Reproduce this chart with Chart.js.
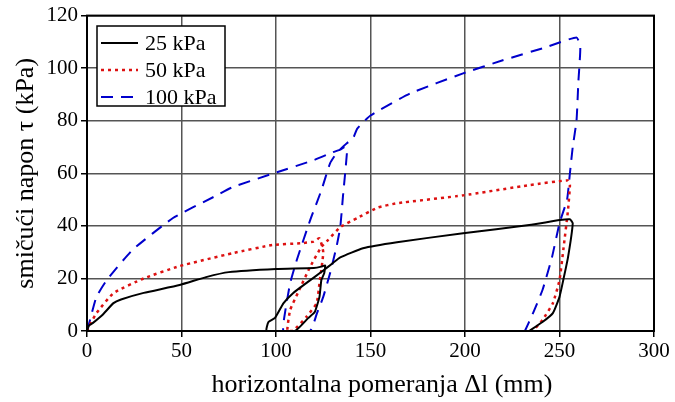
<!DOCTYPE html>
<html>
<head>
<meta charset="utf-8">
<script src="https://cdn.jsdelivr.net/npm/chart.js@4"></script>
<style>
  body { margin: 0; background: #fff; }
  #wrap { width: 675px; height: 402px; }
</style>
</head>
<body>
<div id="wrap"><canvas id="myChart" width="675" height="402"></canvas></div>
<script>
// values
const x25 = [0, 1, 3, 8, 14, 18, 30, 49, 63, 75, 100, 120, 124, 126, 125.5, 124, 123, 120.5, 117, 110, 95, 96, 99.5, 104, 109, 116, 125, 130, 134, 146, 164, 199, 234, 250, 255.5, 257, 254.5, 252, 250, 246.5, 241, 234];
const y25 = [0, 2, 3, 6, 10.6, 12, 14.5, 17.5, 20.5, 22.4, 23.6, 24, 24.5, 25, 22, 19.4, 13, 7.2, 4.9, 0, 0, 3.4, 5, 10.6, 14.4, 18.2, 23, 25.8, 28, 31.5, 33.8, 37.2, 40.3, 42.2, 42.5, 41, 28, 19.4, 13, 6.8, 3.4, 0];

const x50 = [0, 2, 5, 14, 30, 49, 77, 98, 113, 120, 123, 125, 123, 121.5, 116, 109, 106, 107.5, 111.5, 118, 124, 127.5, 134, 143, 154, 164, 199, 234, 254.5, 255.5, 254.5, 252, 250, 246.5, 241, 236];
const y50 = [0, 3, 6.8, 14.4, 20, 24.7, 29.6, 32.7, 33.4, 34, 35.3, 30, 18.2, 10.6, 5.3, 0, 0, 8, 14.4, 24.3, 32, 34.6, 39.5, 43, 47, 48.6, 51.6, 55.5, 57.3, 55.5, 46, 30.8, 19.4, 10.6, 4.2, 0];

const x100 = [0, 1.6, 5, 10.5, 24, 45.5, 67, 77, 100.5, 120, 130, 134, 136.5, 137.6, 135.4, 134, 132, 128.6, 125, 121.7, 118, 104, 105, 107.5, 111, 118, 124, 128.6, 132, 136, 141, 143, 150, 171, 199, 220, 243, 259, 261, 260, 259, 257, 255.5, 254, 250, 246, 241, 236, 231.7];
const y100 = [0, 4.2, 13, 19.4, 30.8, 43, 51, 54.7, 60.4, 65, 68, 69, 70, 68.7, 51, 39.5, 32, 22, 13, 6.8, 0, 0, 8, 18.2, 27, 42, 53.5, 63.8, 67.6, 70.5, 73.7, 77, 82, 90.4, 98, 103, 108, 111.7, 108, 95, 80, 70, 60, 50, 41, 28, 15.6, 6.8, 0];

const seriesNames = ["25 kPa", "50 kPa", "100 kPa"];
const xTicks = [0, 50, 100, 150, 200, 250, 300];
const yTicks = [0, 20, 40, 60, 80, 100, 120];
const xTitle = "horizontalna pomeranja Δl (mm)";
const yTitle = "smičući napon τ (kPa)";

const toPoints = (xs, ys) => xs.map((x, i) => ({ x, y: ys[i] }));

const serif = "'Liberation Serif', 'DejaVu Serif', serif";

const styles = [
  { color: "#000000", width: 2, dash: [] },
  { color: "#dd1111", width: 2.5, dash: [3, 4] },
  { color: "#0000cc", width: 2, dash: [12, 8] },
];

// frame around plot, x title (sits a bit right of centre) and the legend box
const framePlugin = {
  id: "frame",
  afterDraw(chart) {
    const { ctx, chartArea: a } = chart;
    ctx.save();
    ctx.strokeStyle = "#000";
    ctx.lineWidth = 2;
    ctx.strokeRect(a.left, a.top, a.right - a.left, a.bottom - a.top);

    ctx.fillStyle = "#000";
    ctx.font = "26px " + serif;
    ctx.textAlign = "center";
    ctx.textBaseline = "alphabetic";
    ctx.fillText(xTitle, 382, 392);

    const bx = 97, by = 26, bw = 128, bh = 80;
    ctx.fillStyle = "#fff";
    ctx.fillRect(bx, by, bw, bh);
    ctx.lineWidth = 1.5;
    ctx.strokeRect(bx, by, bw, bh);
    ctx.font = "22px " + serif;
    ctx.textAlign = "left";
    ctx.textBaseline = "middle";
    seriesNames.forEach((name, i) => {
      const yy = by + 17 + i * 27;
      ctx.beginPath();
      ctx.strokeStyle = styles[i].color;
      ctx.lineWidth = styles[i].width;
      ctx.setLineDash(styles[i].dash);
      ctx.moveTo(101, yy);
      ctx.lineTo(138, yy);
      ctx.stroke();
      ctx.setLineDash([]);
      ctx.fillStyle = "#000";
      ctx.fillText(name, 145, yy + 1);
    });
    ctx.restore();
  },
};

const chartCtx = document.getElementById("myChart").getContext("2d");
new Chart(chartCtx, {
  type: "scatter",
  data: {
    datasets: seriesNames.map((name, i) => ({
      label: name,
      data: toPoints([x25, x50, x100][i], [y25, y50, y100][i]),
      showLine: true,
      borderColor: styles[i].color,
      borderWidth: styles[i].width,
      borderDash: styles[i].dash,
      pointRadius: 0,
      tension: 0.15,
      fill: false,
    })),
  },
  options: {
    responsive: false,
    animation: false,
    layout: { padding: { top: 15, right: 21, bottom: 0, left: 0 } },
    plugins: { legend: { display: false }, tooltip: { enabled: false } },
    scales: {
      x: {
        type: "linear",
        min: 0,
        max: 300,
        afterBuildTicks: (s) => { s.ticks = xTicks.map((v) => ({ value: v })); },
        afterFit: (s) => { s.height = 71; },
        grid: { color: "#555", lineWidth: 1.5, tickColor: "#000", tickLength: 6 },
        border: { color: "#000", width: 2 },
        ticks: { color: "#000", font: { family: serif, size: 21 }, padding: 2, maxRotation: 0 },
        title: { display: false },
      },
      y: {
        type: "linear",
        min: 0,
        max: 120,
        afterBuildTicks: (s) => { s.ticks = yTicks.map((v) => ({ value: v })); },
        afterFit: (s) => { s.width = 87; },
        grid: { color: "#555", lineWidth: 1.5, tickColor: "#000", tickLength: 6 },
        border: { color: "#000", width: 2 },
        ticks: { color: "#000", font: { family: serif, size: 21 }, padding: 3 },
        title: {
          display: true,
          text: yTitle,
          color: "#000",
          font: { family: serif, size: 26 },
          padding: { top: 11, bottom: 0 },
        },
      },
    },
  },
  plugins: [framePlugin],
});
</script>
</body>
</html>
